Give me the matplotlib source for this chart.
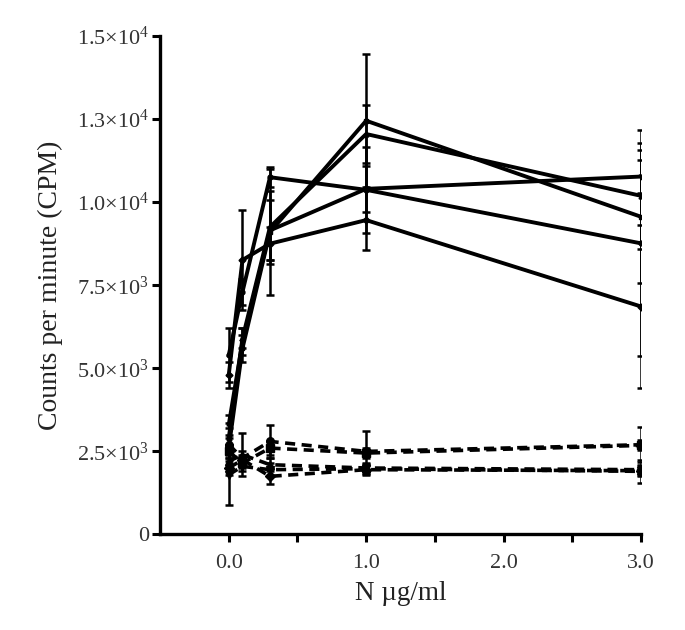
import matplotlib
matplotlib.use("Agg")
import matplotlib.pyplot as plt

plt.rcParams['font.family'] = ['Liberation Serif', 'DejaVu Serif']
plt.rcParams['mathtext.fontset'] = 'custom'
plt.rcParams['mathtext.rm'] = 'Liberation Serif'
plt.rcParams['mathtext.default'] = 'regular'

# concentrations (µg/ml)
conc = [0, 0.1, 0.3, 1, 3]

# stimulated samples (solid lines)
solid_means = [
    [5400, 7300, 10750, 10370, 8760],
    [2600, 5600, 9100, 12450, 9560],
    [2900, 5900, 9250, 12050, 10190],
    [3300, 5800, 9150, 10400, 10770],
    [4800, 8260, 8750, 9460, 6860],
]
solid_errs = [
    [800, 400, 300, 1300, 3400],
    [300, 400, 1900, 2000, 2000],
    [300, 300, 1100, 870, 1600],
    [300, 400, 900, 700, 500],
    [400, 1500, 500, 900, 2450],
]

# control samples (dashed lines)
dashed_means = [
    [2700, 2300, 2800, 2500, 2700],
    [2500, 2150, 2600, 2450, 2680],
    [2200, 2400, 2100, 2000, 1950],
    [1800, 2050, 1950, 1980, 1900],
    [2000, 2250, 1750, 1950, 1920],
]
dashed_errs = [
    [650, 200, 500, 600, 530],
    [200, 150, 200, 150, 150],
    [200, 650, 200, 150, 150],
    [900, 150, 200, 150, 350],
    [200, 150, 230, 150, 150],
]

markers = ['o', 's', '^', 'v', 'D']

y_ticks = [0, 2500, 5000, 7500, 10000, 12500, 15000]
y_labels = ['0', '2.5×10$^3$', '5.0×10$^3$', '7.5×10$^3$',
            '1.0×10$^4$', '1.3×10$^4$', '1.5×10$^4$']

fig = plt.figure(figsize=(6.85, 6.3), dpi=100)
ax = fig.add_axes([0.2336, 0.1516, 0.7022, 0.7913])

for i in range(len(solid_means)):
    ax.errorbar(conc, solid_means[i], yerr=solid_errs[i], color='black',
                lw=2.8, marker=markers[i], ms=3.5, elinewidth=1.8,
                capsize=3, capthick=1.8)

for i in range(len(dashed_means)):
    line = ax.errorbar(conc, dashed_means[i], yerr=dashed_errs[i], color='black',
                       lw=2.6, ls='--', marker=markers[i], ms=5.5, elinewidth=1.8,
                       capsize=3, capthick=1.8)
    line[0].set_dashes((2.8, 1.8))

ax.set_xlim(-0.5, 3.0)
ax.set_ylim(0, 15000)
ax.set_xticks([0, 1, 2, 3])
ax.set_xticklabels(['0.0', '1.0', '2.0', '3.0'])
ax.set_xticks([0.5, 1.5, 2.5], minor=True)
ax.set_yticks(y_ticks)
ax.set_yticklabels(y_labels)

for s in ['top', 'right']:
    ax.spines[s].set_visible(False)
for s in ['left', 'bottom']:
    ax.spines[s].set_linewidth(2.4)

ax.tick_params(which='both', direction='out', length=6, width=2.2,
               labelsize=16, colors='black', labelcolor='#333333')
ax.tick_params(axis='x', which='major', pad=8)
ax.tick_params(axis='y', which='major', pad=2)

ax.set_xlabel('N µg/ml', fontsize=19.5, color='#222222', labelpad=6)
ax.set_ylabel('Counts per minute (CPM)', fontsize=20, color='#222222', labelpad=10)

fig.savefig('out.png', dpi=100)
